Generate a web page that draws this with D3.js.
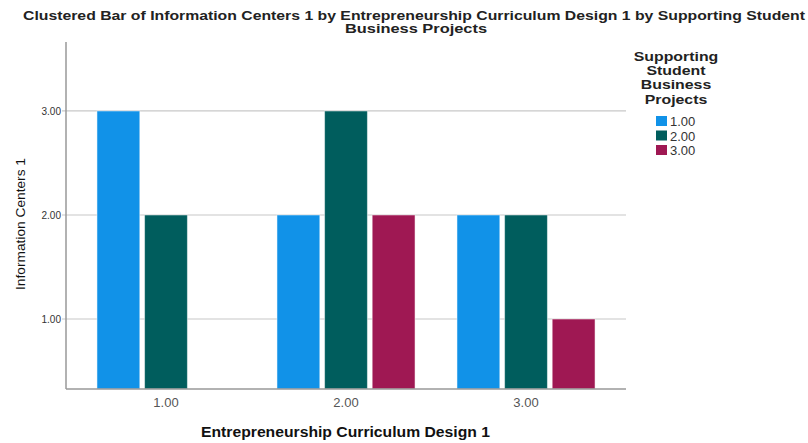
<!DOCTYPE html>
<html>
<head>
<meta charset="utf-8">
<script src="https://cdn.jsdelivr.net/npm/d3@7"></script>
<style>
    body { margin: 0; background: #fff; }
    text { font-family: "Liberation Sans", Arial, sans-serif; }
</style>
</head>
<body>
<div id="chart"></div>
<script>
var categories = ["1.00", "2.00", "3.00"];
var seriesNames = ["1.00", "2.00", "3.00"];
// values per category, one per series (null = no bar)
var series1 = [3, 2, 2];
var series2 = [2, 3, 2];
var series3 = [null, 2, 1];
var yTicks = [1, 2, 3];
var colours = ["#1192e8", "#005d5d", "#9f1853"];

var drawChart = (function () {
    const width = 808, height = 443;
    const left = 66, right = 626, top = 42, bottom = 389;

    function build() {
        var seriesValues = [series1, series2, series3];
        var rows = categories.map(function (c, i) {
            return {
                cat: c,
                bars: seriesNames.map(function (s, j) { return { s: s, v: seriesValues[j][i], j: j }; })
            };
        });

        var svg = d3.select("#chart").append("svg")
            .attr("width", width)
            .attr("height", height);

        var x0 = d3.scaleBand().domain(categories).range([left, right])
            .paddingInner(0.233).paddingOuter(0.172);
        var x1 = d3.scaleBand().domain(seriesNames).range([0, x0.bandwidth()])
            .paddingInner(0.1);
        var y = d3.scaleLinear().domain([0.327, 3.663]).range([bottom, top]);

        // gridlines
        svg.append("g").selectAll("line").data(yTicks).enter().append("line")
            .attr("x1", left - 4).attr("x2", right)
            .attr("y1", function (d) { return y(d); })
            .attr("y2", function (d) { return y(d); })
            .attr("stroke", "#c8c8c8").attr("stroke-width", 1.2);

        // bars
        svg.append("g").selectAll("g").data(rows).enter().append("g")
            .attr("transform", function (d) { return "translate(" + x0(d.cat) + ",0)"; })
            .selectAll("rect")
            .data(function (d) { return d.bars.filter(function (b) { return b.v != null; }); })
            .enter().append("rect")
            .attr("x", function (d) { return x1(d.s); })
            .attr("width", x1.bandwidth())
            .attr("y", function (d) { return y(d.v); })
            .attr("height", function (d) { return bottom - y(d.v); })
            .attr("fill", function (d) { return colours[d.j]; })
            .attr("stroke", "#ffffff").attr("stroke-opacity", 0.5).attr("stroke-width", 1);

        // y axis
        var yAxis = svg.append("g")
            .attr("transform", "translate(" + left + ",0)")
            .call(d3.axisLeft(y).tickValues(yTicks).tickFormat(d3.format(".2f")).tickSize(0).tickPadding(5));
        yAxis.select(".domain").remove();
        yAxis.selectAll("text").attr("font-size", 10).attr("fill", "#333")
            .style("font-family", "'Liberation Sans', Arial, sans-serif");

        // x axis
        var xAxis = svg.append("g")
            .attr("transform", "translate(0," + bottom + ")")
            .call(d3.axisBottom(x0).tickSize(0).tickPadding(9));
        xAxis.select(".domain").remove();
        xAxis.selectAll("text").attr("font-size", 13).attr("fill", "#555")
            .style("font-family", "'Liberation Sans', Arial, sans-serif");

        // axis lines
        svg.append("line").attr("x1", left).attr("x2", left).attr("y1", top).attr("y2", bottom)
            .attr("stroke", "#999").attr("stroke-width", 1.5);
        svg.append("line").attr("x1", left).attr("x2", right).attr("y1", bottom).attr("y2", bottom)
            .attr("stroke", "#999").attr("stroke-width", 1.5);

        // title
        var title = svg.append("text").attr("text-anchor", "middle")
            .attr("font-size", 12).attr("font-weight", "bold").attr("fill", "#222");
        title.append("tspan").attr("x", 414).attr("y", 20)
            .attr("textLength", 782).attr("lengthAdjust", "spacingAndGlyphs")
            .text("Clustered Bar of Information Centers 1 by Entrepreneurship Curriculum Design 1 by Supporting Student");
        title.append("tspan").attr("x", 416).attr("y", 33)
            .attr("textLength", 142).attr("lengthAdjust", "spacingAndGlyphs")
            .text("Business Projects");

        // axis titles
        svg.append("text").attr("text-anchor", "middle")
            .attr("transform", "translate(25,224) rotate(-90)")
            .attr("font-size", 13.5).attr("fill", "#111")
            .attr("textLength", 132).attr("lengthAdjust", "spacingAndGlyphs")
            .text("Information Centers 1");
        svg.append("text").attr("text-anchor", "middle")
            .attr("x", 345.5).attr("y", 437)
            .attr("font-size", 14).attr("font-weight", "bold").attr("fill", "#111")
            .attr("textLength", 289).attr("lengthAdjust", "spacingAndGlyphs")
            .text("Entrepreneurship Curriculum Design 1");

        // legend
        var legendTitle = ["Supporting", "Student", "Business", "Projects"];
        svg.append("g")
            .attr("transform", "translate(676,0) scale(1.22,1)")
            .selectAll("text").data(legendTitle).enter().append("text")
            .attr("text-anchor", "middle").attr("x", 0)
            .attr("y", function (d, i) { return 61 + i * 14.2; })
            .attr("font-size", 13).attr("font-weight", "bold").attr("fill", "#222")
            .text(function (d) { return d; });

        var items = svg.append("g").selectAll("g").data(seriesNames).enter().append("g")
            .attr("transform", function (d, i) { return "translate(656," + (116 + i * 14.5) + ")"; });
        items.append("rect").attr("width", 11).attr("height", 10)
            .attr("fill", function (d, i) { return colours[i]; });
        items.append("text").attr("x", 14).attr("y", 10)
            .attr("font-size", 13).attr("fill", "#333")
            .text(function (d) { return d; });
    }

    document.addEventListener("DOMContentLoaded", function () {
        build();
    });
}());
</script>
</body>
</html>
